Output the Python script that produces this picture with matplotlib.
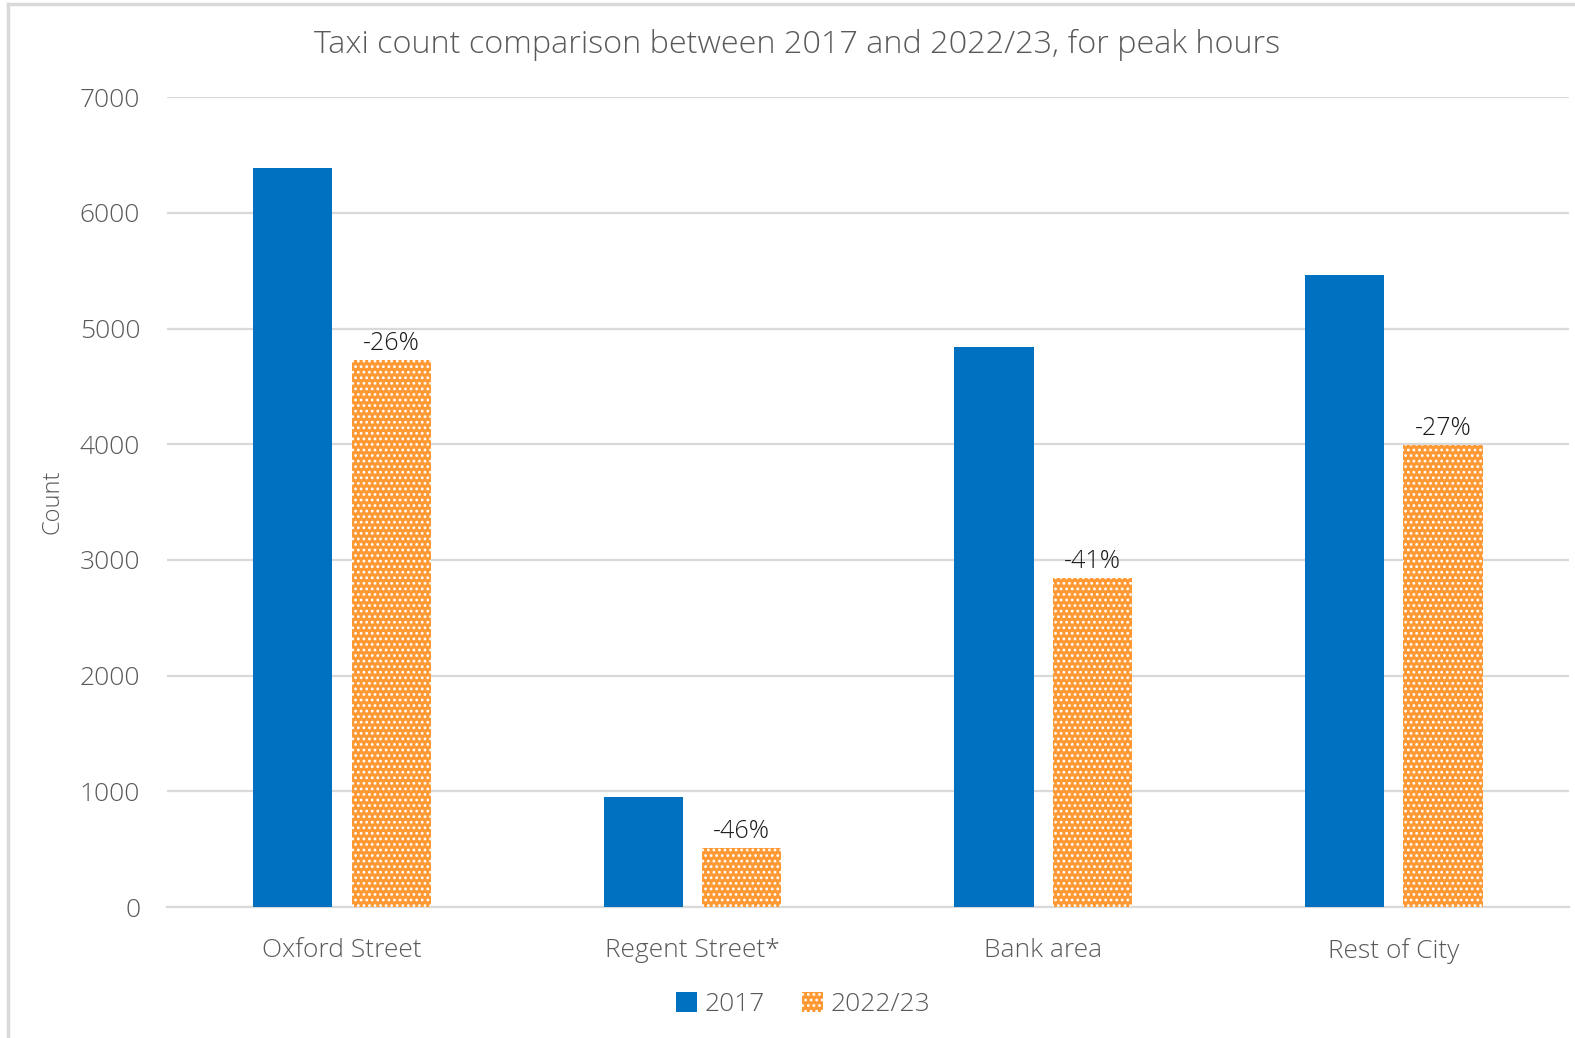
import matplotlib
matplotlib.use("Agg")
import matplotlib.pyplot as plt
import numpy as np
from matplotlib.patches import Patch
from matplotlib.lines import Line2D

# --- données ---
categories = ["Oxford Street", "Regent Street*", "Bank area", "Rest of City"]
counts_2017 = [6390, 955, 4845, 5465]
counts_2022 = [4725, 512, 2840, 3995]
change_labels = ["-26%", "-46%", "-41%", "-27%"]

BLUE = "#0070C0"
ORANGE = "#FF9933"
GREY_TXT = "#595959"
GRID = "#D9D9D9"

plt.rcParams['font.family'] = ['Open Sans', 'DejaVu Sans']
plt.rcParams['font.weight'] = 'light'
plt.rcParams['hatch.linewidth'] = 1.2

fig = plt.figure(figsize=(15.75, 10.38), dpi=100)
ax = fig.add_axes([0.1058, 0.1262, 0.8904, 0.7801])

x = np.arange(len(categories))
w = 0.226
off = 0.1404

ax.bar(x - off, counts_2017, width=w, color=BLUE, zorder=3)
ax.bar(x + off, counts_2022, width=w, color=ORANGE, edgecolor="white",
       hatch="...", linewidth=0, zorder=3)

for xi, v, lab in zip(x, counts_2022, change_labels):
    ax.text(xi + off, v + 35, lab, ha="center", va="bottom",
            fontsize=18, color="#1a1a1a")

ax.set_xlim(-0.5, len(categories) - 0.5)
ax.set_ylim(0, 7000)
ax.set_yticks(range(0, 7001, 1000))
ax.set_xticks(x)
ax.set_xticklabels(categories)
ax.tick_params(axis="both", length=0, labelsize=19, colors=GREY_TXT)
ax.tick_params(axis="y", pad=19)
ax.tick_params(axis="x", pad=22)
ax.grid(axis="y", color=GRID, linewidth=1.6, zorder=0)
for s in ["left", "right", "top"]:
    ax.spines[s].set_visible(False)
ax.spines["bottom"].set_color(GRID)
ax.spines["bottom"].set_linewidth(1.6)

ax.set_ylabel("Count", fontsize=17, color=GREY_TXT, fontweight="light")
ax.yaxis.set_label_coords(-0.073, 0.5)

fig.text(0.506, 0.957, "Taxi count comparison between 2017 and 2022/23, for peak hours",
         ha="center", va="center", fontsize=23.3, color=GREY_TXT)

handles = [Patch(facecolor=BLUE, label="2017"),
           Patch(facecolor=ORANGE, edgecolor="white", hatch="...", linewidth=0, label="2022/23")]
fig.legend(handles=handles, loc="center", bbox_to_anchor=(0.51, 0.032), ncol=2,
           frameon=False, fontsize=19, labelcolor=GREY_TXT, handlelength=0.8,
           handleheight=0.8, handletextpad=0.3, columnspacing=1.4)

# cadre gris autour du graphique
fig.add_artist(Line2D([0.0048, 0.0048], [0, 0.9965], transform=fig.transFigure,
                      color=GRID, linewidth=2.5))
fig.add_artist(Line2D([0.0048, 1.0], [0.9965, 0.9965], transform=fig.transFigure,
                      color=GRID, linewidth=2.5))

fig.savefig("out.png", dpi=100)
